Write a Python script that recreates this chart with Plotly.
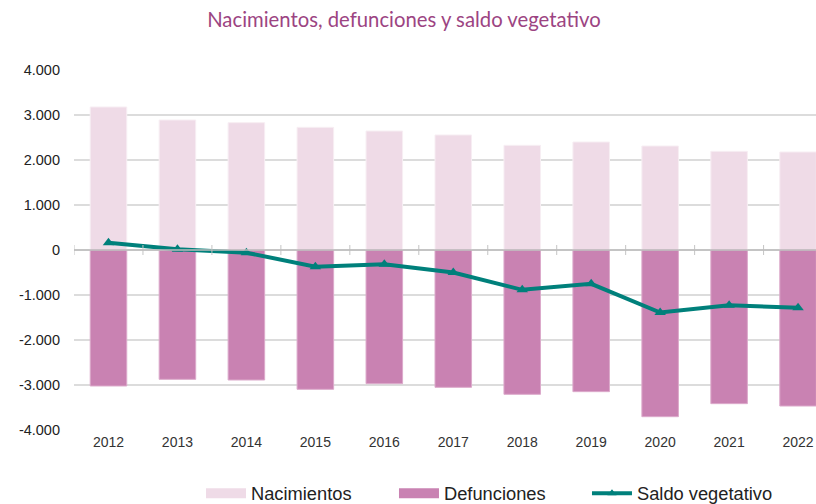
import plotly.graph_objects as go

years = ["2012", "2013", "2014", "2015", "2016", "2017", "2018", "2019", "2020", "2021", "2022"]
nacimientos = [3178, 2889, 2830, 2726, 2644, 2556, 2326, 2400, 2311, 2193, 2178]
defunciones = [-3022, -2874, -2889, -3096, -2970, -3052, -3207, -3148, -3704, -3415, -3467]
saldo = [160, 15, -60, -370, -315, -500, -885, -752, -1389, -1230, -1285]
y_ticks = [-4000, -3000, -2000, -1000, 0, 1000, 2000, 3000, 4000]
y_labels = ["-4.000", "-3.000", "-2.000", "-1.000", "0", "1.000", "2.000", "3.000", "4.000"]

C_NAC = "#efdbe7"
C_DEF = "#c982b2"
C_SAL = "#00807b"

fig = go.Figure()
fig.add_trace(go.Bar(x=years, y=nacimientos, name="Nacimientos", showlegend=False,
                     marker=dict(color=C_NAC, line=dict(color="#f7eef3", width=1)), width=0.53))
fig.add_trace(go.Bar(x=years, y=defunciones, name="Defunciones", showlegend=False,
                     marker=dict(color=C_DEF, line=dict(color="#dcaacb", width=1)), width=0.53))
fig.add_trace(go.Scatter(x=years, y=saldo, name="Saldo vegetativo", mode="lines+markers",
                         showlegend=False,
                         line=dict(color=C_SAL, width=4),
                         marker=dict(symbol="triangle-up", size=10, color=C_SAL)))
# legend entries (wide swatches like the reference)
fig.add_trace(go.Scatter(x=[None], y=[None], name="Nacimientos", mode="lines",
                         line=dict(color=C_NAC, width=11)))
fig.add_trace(go.Scatter(x=[None], y=[None], name="Defunciones", mode="lines",
                         line=dict(color=C_DEF, width=11)))
fig.add_trace(go.Scatter(x=[None], y=[None], name="Saldo vegetativo", mode="lines+markers",
                         line=dict(color=C_SAL, width=4),
                         marker=dict(symbol="triangle-up", size=8, color=C_SAL)))

shapes = []
for i in range(len(years) + 1):
    shapes.append(dict(type="line", xref="x", yref="y", x0=i - 0.5, x1=i - 0.5,
                       ysizemode="pixel", yanchor=0, y0=-5, y1=5,
                       line=dict(color="#c4c4c4", width=1)))
shapes.append(dict(type="line", xref="paper", yref="y", x0=0, x1=1, y0=0, y1=0,
                   line=dict(color="#bdbdbd", width=1.5)))

fig.update_layout(
    width=816, height=504,
    margin=dict(l=74, r=0, t=70, b=74),
    paper_bgcolor="white", plot_bgcolor="white",
    barmode="relative",
    title=dict(text="Nacimientos, defunciones y saldo vegetativo", x=0.495, xanchor="center",
               y=0.96, yanchor="middle",
               font=dict(family="Lato", size=20.3, color="#9c4482")),
    xaxis=dict(type="category", range=[-0.5, 10.26], showgrid=False, showline=False,
               ticks="", tickfont=dict(family="Liberation Sans", size=14, color="#333333"),
               ticklabelstandoff=2, automargin=False),
    yaxis=dict(range=[-4000, 4000], tickvals=y_ticks, ticktext=y_labels,
               showgrid=True, gridcolor="#dcdcdc", gridwidth=1.5, zeroline=False,
               tickfont=dict(family="Liberation Sans", size=14.5, color="#222222"),
               ticklabelstandoff=13, automargin=False),
    shapes=shapes,
    legend=dict(orientation="h", xref="container", yref="container",
                x=0.2463, xanchor="left", y=0.058, yanchor="top",
                font=dict(family="Liberation Sans", size=18.3, color="#222222"),
                entrywidth=138, traceorder="normal", itemwidth=40),
    showlegend=True,
)
fig.write_html("out.html", config={"displayModeBar": False},
               post_script="document.body.style.margin='0';document.body.style.overflow='hidden';")
